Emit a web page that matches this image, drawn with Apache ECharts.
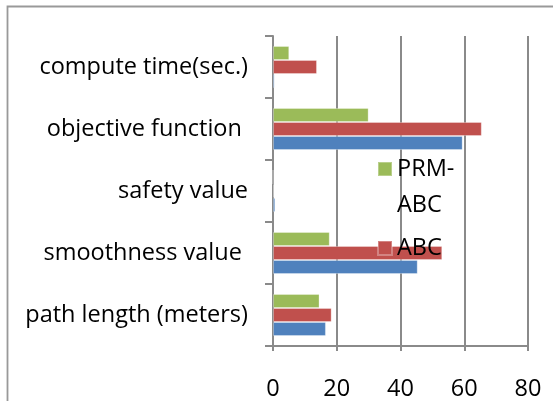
<!DOCTYPE html>
<html><head><meta charset="utf-8">
<script src="https://cdn.jsdelivr.net/npm/echarts@6/dist/echarts.min.js"></script>
<style>html,body{margin:0;padding:0;background:#fff}#c{width:553px;height:401px}</style>
</head><body><div id="c"></div>
<script>
const categories = ['path length (meters)', 'smoothness value ', 'safety value', 'objective function ', 'compute time(sec.)'];
const seriesNames = ['PRM-ABC', 'ABC', 'Series3'];
const prmAbcValues = [14.6, 17.8, 0, 30.0, 5.1];
const abcValues = [18.4, 53.1, 0.3, 65.5, 13.8];
const blueValues = [16.6, 45.4, 0.7, 59.5, 0.5];
const xTicks = [0, 20, 40, 60, 80];

const FONT = 'Open Sans';
const FS = 23.5;
const chart = echarts.init(document.getElementById('c'), null, {renderer: 'canvas'});
const colors = ['#9BBB59', '#C0504D', '#4F81BD'];
const vals = [prmAbcValues, abcValues, blueValues];
chart.setOption({
  animation: false,
  color: colors,
  graphic: [{type: 'rect', shape: {x: 7.5, y: 6.5, width: 600, height: 450}, style: {fill: 'none', stroke: '#999999', lineWidth: 1.8}, silent: true}],
  grid: {left: 273, right: 25, top: 36, bottom: 42.4, containLabel: false},
  legend: [
    {data: ['PRM-ABC'], orient: 'vertical', left: 372, top: 116, itemWidth: 14, itemHeight: 14, itemGap: 0,
     icon: 'rect', formatter: () => '{s| }\n{p|PRM-}\n{p|ABC}',
     textStyle: {fontFamily: FONT, fontSize: FS, color: '#000',
       rich: {s: {fontFamily: FONT, fontSize: FS, lineHeight: 36}, p: {fontFamily: FONT, fontSize: FS, color: '#000', lineHeight: 36}}}},
    {data: ['ABC'], orient: 'vertical', left: 372, top: 231, itemWidth: 14, itemHeight: 14,
     icon: 'rect', textStyle: {fontFamily: FONT, fontSize: FS, color: '#000'}}
  ],
  xAxis: {
    type: 'value', min: xTicks[0], max: xTicks[xTicks.length - 1], interval: xTicks[1] - xTicks[0],
    axisLine: {show: true, lineStyle: {color: '#8a8a8a', width: 2}},
    axisTick: {show: true, length: 5, lineStyle: {color: '#8a8a8a', width: 2}},
    splitLine: {show: true, lineStyle: {color: '#8a8a8a', width: 2}},
    axisLabel: {fontFamily: FONT, fontSize: FS, color: '#000', margin: 31}
  },
  yAxis: {
    type: 'category', data: categories,
    axisLine: {show: true, lineStyle: {color: '#8a8a8a', width: 2}},
    axisTick: {show: true, length: 8, lineStyle: {color: '#8a8a8a', width: 2}},
    axisLabel: {fontFamily: FONT, fontSize: FS, color: '#000', margin: 25}
  },
  series: seriesNames.map((n, i) => ({
    name: n, type: 'bar', data: vals[i], barWidth: 14, barGap: '0%',
    itemStyle: {borderColor: 'rgba(255,255,255,0.3)', borderWidth: 1}
  }))
});
</script></body></html>
